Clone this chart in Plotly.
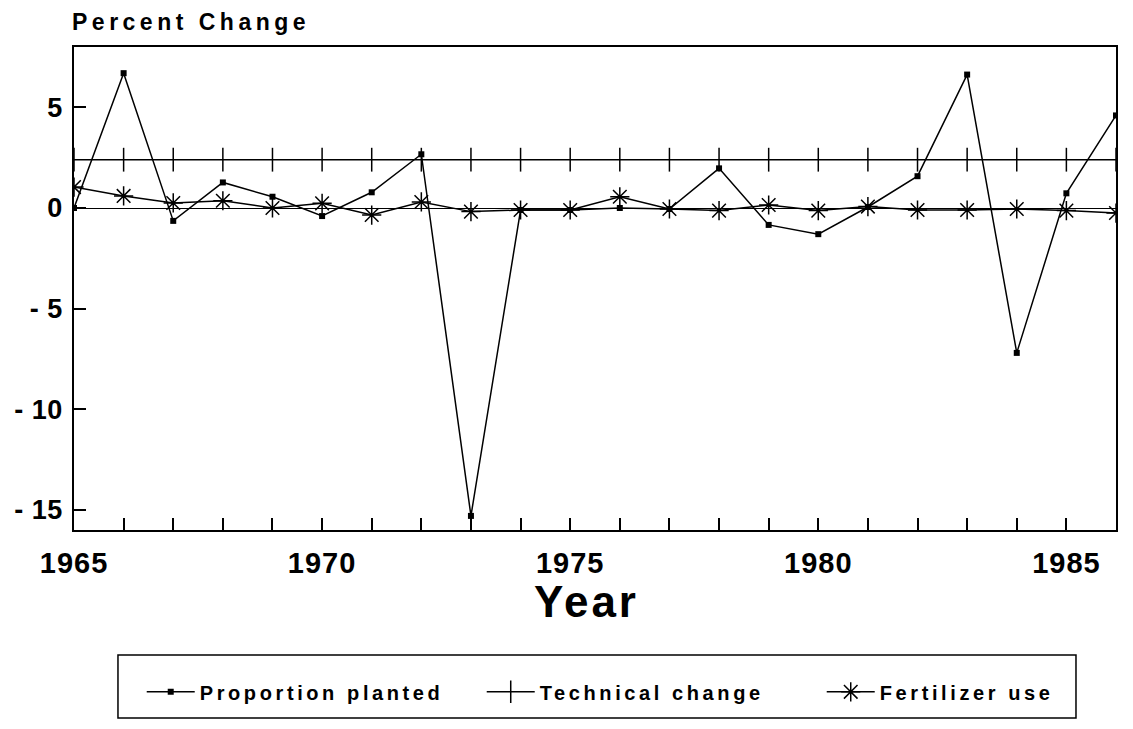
import plotly.graph_objects as go

years = list(range(1965, 1987))
proportion_planted = [0.0, 6.7, -0.64, 1.27, 0.56, -0.4, 0.78, 2.67, -15.3, -0.1, -0.1,
                      0.0, -0.05, 1.97, -0.84, -1.3, 0.05, 1.58, 6.63, -7.2, 0.73, 4.6]
technical_change = [2.4, 2.4, 2.4, 2.4, 2.4, 2.4, 2.4, 2.4, 2.4, 2.4, 2.4,
                    2.4, 2.4, 2.4, 2.4, 2.4, 2.4, 2.4, 2.4, 2.4, 2.4, 2.4]
fertilizer_use = [1.04, 0.6, 0.25, 0.36, 0.0, 0.23, -0.35, 0.3, -0.18, -0.1, -0.1,
                  0.56, -0.05, -0.13, 0.15, -0.13, 0.07, -0.1, -0.1, -0.05, -0.13, -0.25]

labeled_years = [1965, 1970, 1975, 1980, 1985]
y_tickvals = [5, 0, -5, -10, -15]
y_ticktext = ["5", "0", "- 5", "- 10", "- 15"]

FONT = "Liberation Sans, Arial, sans-serif"


def spaced(s, px):
    return f'<span style="letter-spacing:{px}px">{s}</span>'


x_ticktext = [spaced(str(y), 1) if y in labeled_years else "" for y in years]

fig = go.Figure()
fig.add_trace(go.Scatter(
    x=years, y=proportion_planted, mode="lines+markers",
    name=spaced("Proportion planted", 3.6),
    line=dict(color="black", width=1.5),
    marker=dict(symbol="square", size=6, color="black"),
))
fig.add_trace(go.Scatter(
    x=years, y=technical_change, mode="lines+markers",
    name=spaced("Technical change", 3.6),
    line=dict(color="black", width=1.5),
    marker=dict(symbol="line-ns", size=17, color="black",
                line=dict(color="black", width=1.5)),
))
fig.add_trace(go.Scatter(
    x=years, y=fertilizer_use, mode="lines+markers",
    name=spaced("Fertilizer use", 3.6),
    line=dict(color="black", width=1.5),
    marker=dict(symbol="asterisk-open", size=16, color="black",
                line=dict(color="black", width=1.5)),
))

# page body has an 8px margin, so the figure is shrunk by 8px and margins shifted
fig.update_layout(
    template="none",
    width=1125, height=721,
    paper_bgcolor="white", plot_bgcolor="white",
    margin=dict(l=66, r=17, t=39, b=199, autoexpand=False),
    font=dict(family=FONT, color="black", size=20, weight="bold"),
    showlegend=True,
    legend=dict(
        orientation="h", x=0.065, xanchor="left", y=-0.335, yanchor="middle",
        bgcolor="rgba(0,0,0,0)", borderwidth=0, itemwidth=48,
        font=dict(family=FONT, size=20, color="black", weight="bold"),
        entrywidth=277, entrywidthmode="pixels",
    ),
    xaxis=dict(
        range=[1965, 1986], tickmode="array", tickvals=years, ticktext=x_ticktext,
        ticks="inside", ticklen=12, tickwidth=1.5, tickcolor="black",
        showline=True, linecolor="black", linewidth=1.5, mirror=True,
        showgrid=False, zeroline=False, automargin=False,
        tickfont=dict(family=FONT, size=29, color="black", weight="bold"),
        ticklabelstandoff=6,
    ),
    yaxis=dict(
        range=[-16, 8], tickmode="array", tickvals=y_tickvals,
        ticktext=[spaced(t, 0.5) for t in y_ticktext],
        ticks="inside", ticklen=12, tickwidth=1.5, tickcolor="black",
        showline=True, linecolor="black", linewidth=1.5, mirror=True,
        showgrid=False, zeroline=True, zerolinecolor="black", zerolinewidth=1.2,
        automargin=False,
        tickfont=dict(family=FONT, size=27, color="black", weight="bold"),
        ticklabelstandoff=4,
    ),
    annotations=[
        dict(text=spaced("Percent Change", 4.5), xref="paper", yref="paper",
             x=-0.004, y=1.052, xanchor="left", yanchor="middle", showarrow=False,
             font=dict(family=FONT, size=23, color="black", weight="bold")),
        dict(text=spaced("Year", 3), xref="paper", yref="paper",
             x=0.492, y=-0.147, xanchor="center", yanchor="middle", showarrow=False,
             font=dict(family=FONT, size=44, color="black", weight="bold")),
    ],
    shapes=[
        dict(type="rect", xref="paper", yref="paper",
             x0=0.0422, x1=0.9616, y0=-0.389, y1=-0.259,
             line=dict(color="black", width=1.5), fillcolor="rgba(0,0,0,0)"),
    ],
)

fig.write_html("out.html")
